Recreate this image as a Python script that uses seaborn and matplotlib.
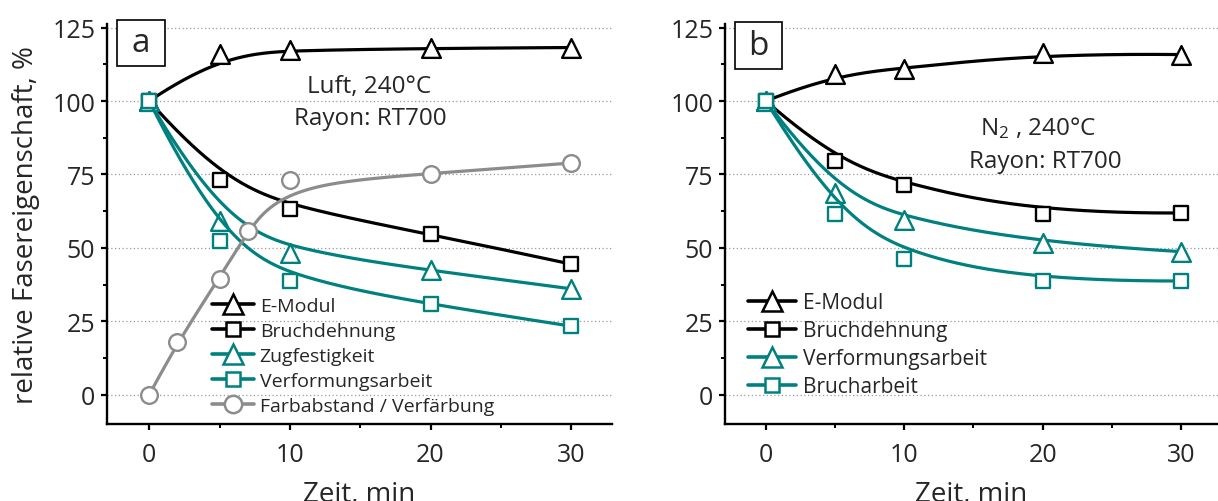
import numpy as np
import matplotlib
matplotlib.use("Agg")
import matplotlib.pyplot as plt
import seaborn as sns
from matplotlib.lines import Line2D
from matplotlib.ticker import MultipleLocator
from matplotlib.patches import Rectangle

# ---------------- data ----------------
time_a = [0, 5, 10, 20, 30]
emodul_a = [100, 116.0, 117.3, 117.9, 118.2]
bruchdehnung_a = [100, 73.2, 63.2, 54.8, 44.5]
zugfestigkeit_a = [100, 59.1, 48.4, 42.4, 36.1]
verformung_a = [100, 52.2, 38.6, 30.8, 23.4]
time_farb = [0, 2, 5, 7, 10, 20, 30]
farbabstand_a = [0, 18.0, 39.6, 55.9, 73.2, 75.1, 78.9]

time_b = [0, 5, 10, 20, 30]
emodul_b = [100, 109.3, 110.8, 116.3, 115.8]
bruchdehnung_b = [100, 79.5, 71.4, 61.7, 61.9]
verformung_b = [100, 68.6, 59.4, 51.6, 48.75]
brucharbeit_b = [100, 61.7, 46.1, 38.75, 38.75]

labels_a = ["E-Modul", "Bruchdehnung", "Zugfestigkeit", "Verformungsarbeit",
            "Farbabstand / Verfärbung"]
labels_b = ["E-Modul", "Bruchdehnung", "Verformungsarbeit", "Brucharbeit"]
xticks = [0, 10, 20, 30]
yticks = [0, 25, 50, 75, 100, 125]

BLACK = "#000000"
TEAL = "#00817f"
GRAY = "#8c8c8c"

sns.set_theme(style="ticks")
plt.rcParams["font.family"] = ["Open Sans", "DejaVu Sans"]
plt.rcParams["mathtext.fontset"] = "custom"
plt.rcParams["mathtext.rm"] = "Open Sans"


def bspline(x, y, n=400, k=3):
    """Clamped uniform B-spline using the data points as control points."""
    P = np.column_stack([x, y]).astype(float)
    m = len(P)
    k = min(k, m - 1)
    knots = np.concatenate([np.zeros(k), np.linspace(0, 1, m - k + 1), np.ones(k)])
    t = np.linspace(0, 1, n)
    t[-1] -= 1e-10
    N = np.array([(knots[i] <= t) & (t < knots[i + 1]) for i in range(len(knots) - 1)], float)
    for p in range(1, k + 1):
        Nn = np.zeros((len(knots) - 1 - p, n))
        for i in range(len(knots) - 1 - p):
            d1 = knots[i + p] - knots[i]
            d2 = knots[i + p + 1] - knots[i + 1]
            a = (t - knots[i]) / d1 * N[i] if d1 > 0 else 0
            b = (knots[i + p + 1] - t) / d2 * N[i + 1] if d2 > 0 else 0
            Nn[i] = a + b
        N = Nn
    C = N.T @ P
    return C[:, 0], C[:, 1]


W, H = 1218, 502
fig = plt.figure(figsize=(W / 100, H / 100), dpi=100)


def rect(l, t, r, b):
    return [l / W, 1 - b / H, (r - l) / W, (b - t) / H]


ax_a = fig.add_axes(rect(107, 25, 612, 425))
ax_b = fig.add_axes(rect(725, 25, 1218, 425))

MS = {"^": 13.5, "s": 10.5, "o": 12}
LMS = {"^": 14.5, "s": 10, "o": 12.5}


def draw_series(ax, x, y, color, marker, z):
    cx, cy = bspline(x, y)
    sns.lineplot(x=cx, y=cy, ax=ax, sort=False, estimator=None, color=color,
                 linewidth=2.3, zorder=z)
    sns.scatterplot(x=x, y=y, ax=ax, marker=marker, s=MS[marker] ** 2,
                    facecolor="white", edgecolor=color, linewidth=1.7,
                    zorder=z + 0.5, clip_on=False)


series_a = [
    (time_a, emodul_a, BLACK, "^"),
    (time_a, bruchdehnung_a, BLACK, "s"),
    (time_a, zugfestigkeit_a, TEAL, "^"),
    (time_a, verformung_a, TEAL, "s"),
    (time_farb, farbabstand_a, GRAY, "o"),
]
series_b = [
    (time_b, emodul_b, BLACK, "^"),
    (time_b, bruchdehnung_b, BLACK, "s"),
    (time_b, verformung_b, TEAL, "^"),
    (time_b, brucharbeit_b, TEAL, "s"),
]

for ax, series, xlim in [(ax_a, series_a, (-3.0, 32.9)), (ax_b, series_b, (-2.96, 32.68))]:
    for i, (x, y, c, m) in enumerate(series):
        draw_series(ax, x, y, c, m, 3 + i)
    ax.set_xlim(*xlim)
    ax.set_ylim(-9.9, 126.2)
    ax.set_xticks(xticks)
    ax.set_yticks(yticks)
    ax.xaxis.set_minor_locator(MultipleLocator(5))
    ax.yaxis.set_minor_locator(MultipleLocator(12.5))
    for s in ["top", "right"]:
        ax.spines[s].set_visible(False)
    for s in ["left", "bottom"]:
        ax.spines[s].set_linewidth(1.7)
        ax.spines[s].set_color("black")
    ax.tick_params(which="major", direction="out", length=4, width=1.6,
                   labelsize=18, color="black")
    ax.tick_params(axis="x", which="major", pad=9)
    ax.tick_params(axis="y", which="major", pad=4.5)
    ax.tick_params(which="minor", direction="out", length=3, width=1.4, color="black")
    ax.grid(axis="y", which="major", linestyle=(0, (1, 2)), color="#9a9a9a",
            linewidth=0.9, zorder=0)
    ax.set_axisbelow(True)
    ax.set_facecolor("white")
    ax.set_xlabel("Zeit, min", fontsize=20)
    ax.xaxis.set_label_coords(0.5, -0.1405)

ax_a.set_ylabel("relative Fasereigenschaft, %", fontsize=20)
ax_a.yaxis.set_label_coords(-0.1327, 0.5)
ax_b.set_ylabel("")


def legend(ax, series, labels, x, y, fs, hl, spacing, tp):
    handles = [Line2D([], [], color=c, lw=2.6, marker=m, ms=LMS[m], mfc="white",
                      mec=c, mew=1.8) for (_, _, c, m) in series]
    leg = ax.legend(handles, labels, loc="upper left",
                    bbox_to_anchor=(x / W, 1 - y / H), bbox_transform=fig.transFigure,
                    frameon=False, fontsize=fs, handlelength=hl, handletextpad=tp,
                    borderpad=0, borderaxespad=0, labelspacing=spacing)
    leg.set_zorder(20)


legend(ax_a, series_a, labels_a, 212, 298, 14, 2.15, 0.36, 0.3)
legend(ax_b, series_b, labels_b, 748, 293, 15, 2.3, 0.34, 0.33)

# annotations
fig.text(369 / W, 1 - 87 / H, "Luft, 240°C", fontsize=17.5, ha="center", va="center")
fig.text(370 / W, 1 - 119 / H, "Rayon: RT700", fontsize=17.5, ha="center", va="center")
fig.text(1038 / W, 1 - 128 / H, r"$\mathregular{N_2}$ , 240°C", fontsize=17.5,
         ha="center", va="center")
fig.text(1045 / W, 1 - 162 / H, "Rayon: RT700", fontsize=17.5, ha="center", va="center")

# panel letters
for (l, t, r, b, letter) in [(117, 21, 165, 67, "a"), (735, 23, 782, 70, "b")]:
    fig.patches.append(Rectangle((l / W, 1 - b / H), (r - l) / W, (b - t) / H,
                                 transform=fig.transFigure, facecolor="white",
                                 edgecolor="black", linewidth=1.2, zorder=30))
    fig.text((l + r) / 2 / W, 1 - (t + b) / 2 / H, letter, fontsize=24,
             ha="center", va="center", zorder=31)

fig.savefig("out.png", dpi=100)
